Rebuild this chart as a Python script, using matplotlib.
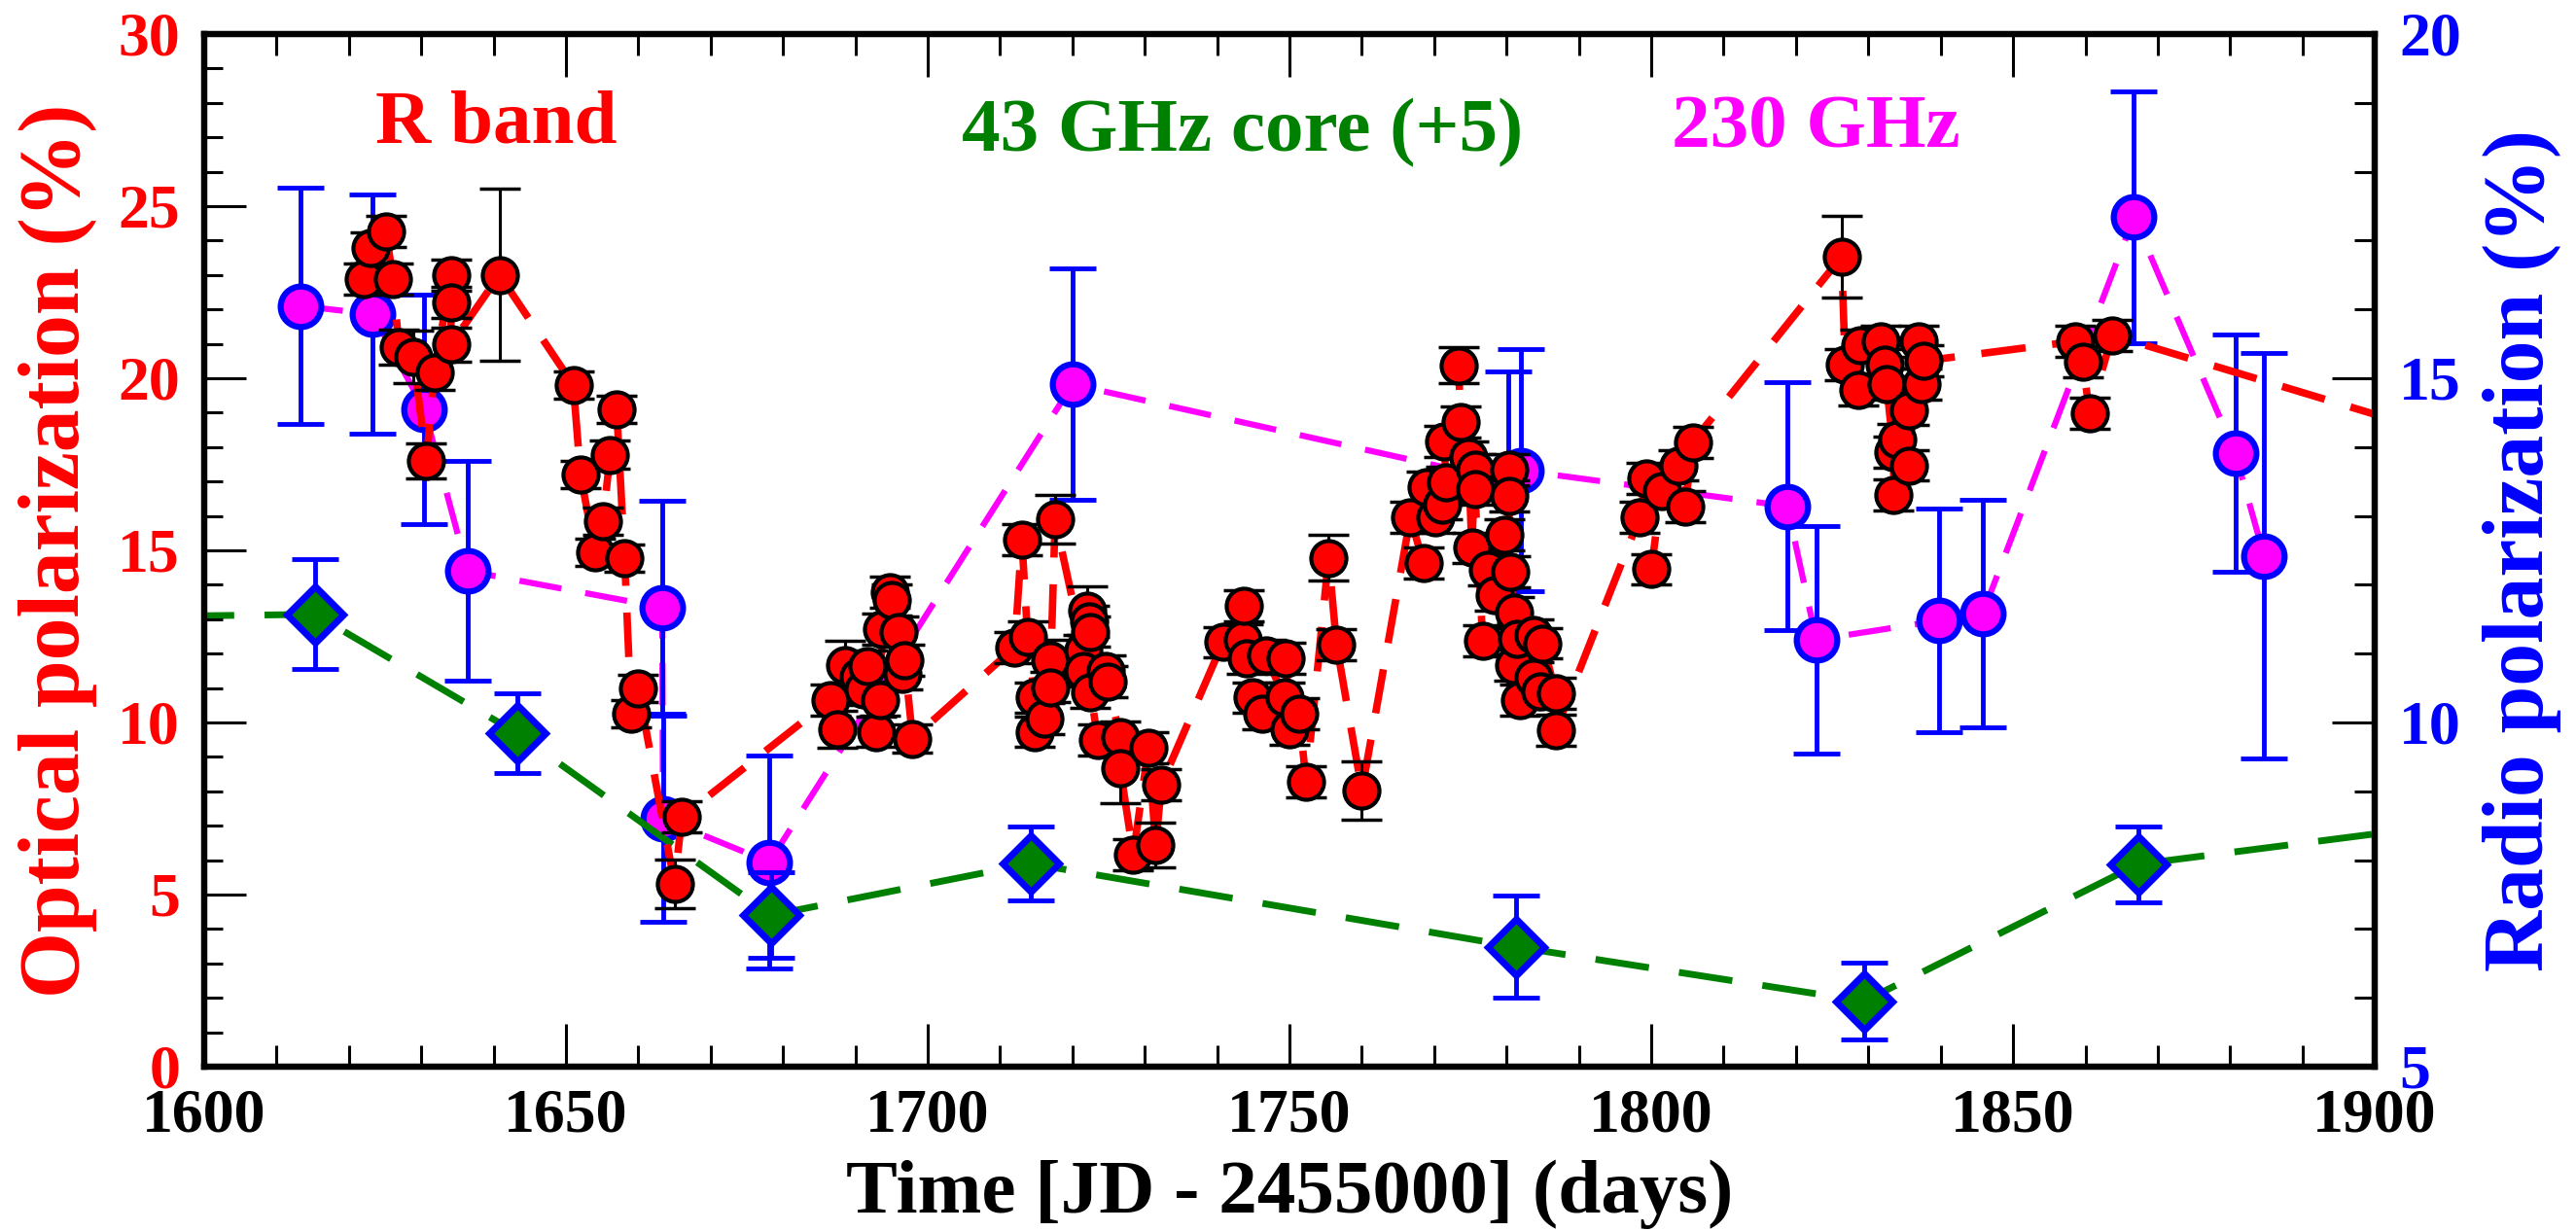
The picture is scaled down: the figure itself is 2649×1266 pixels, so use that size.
import matplotlib
matplotlib.use("Agg")
import matplotlib.pyplot as plt
from matplotlib.ticker import MultipleLocator

plt.rcParams['font.family'] = ['Liberation Serif', 'DejaVu Serif']
plt.rcParams['font.weight'] = 'bold'
plt.rcParams['axes.labelweight'] = 'bold'
plt.rcParams['axes.linewidth'] = 4.5

# R band optical polarization (%), left axis
r_time = [1622.1, 1623.0, 1625.1, 1626.1, 1626.9, 1628.9, 1630.7, 1631.8, 1634.1, 1634.1,
          1634.1, 1640.8, 1651.0, 1652.0, 1654.0, 1655.1, 1656.1, 1657.0, 1658.1, 1659.0,
          1660.0, 1665.0, 1666.0,
          1686.5, 1687.5, 1688.6, 1690.4, 1691.1, 1691.6, 1692.9, 1693.4, 1693.7, 1694.7,
          1695.0, 1696.0, 1696.5, 1696.8, 1697.9,
          1712.0, 1713.0, 1713.8, 1714.8, 1714.8, 1716.1, 1716.9, 1716.9, 1717.6, 1721.5,
          1721.5, 1722.0, 1722.3, 1722.5, 1722.5, 1723.5, 1724.6, 1724.8, 1726.6, 1726.6,
          1728.4, 1730.5, 1731.5, 1732.3,
          1740.8, 1743.6, 1743.7, 1744.1, 1744.9, 1746.2, 1746.7, 1749.3, 1749.5, 1750.0,
          1751.3, 1752.3, 1755.4, 1756.5, 1760.0,
          1766.7, 1768.5, 1768.9, 1770.2, 1771.1, 1771.4, 1771.6, 1773.4, 1773.6, 1774.7,
          1775.2, 1775.6, 1775.6, 1776.7, 1777.4, 1778.3, 1779.7, 1780.3, 1780.3, 1780.5,
          1781.0, 1781.0, 1781.4, 1781.9, 1783.7, 1783.7, 1784.6, 1785.0, 1786.8, 1786.8,
          1798.4, 1799.3, 1800.0, 1801.4, 1803.7, 1804.7, 1805.7,
          1826.3, 1826.8, 1828.6, 1828.9, 1831.7, 1832.2, 1832.5, 1833.5, 1833.5, 1834.0,
          1835.6, 1835.6, 1836.9, 1837.4, 1837.6,
          1858.6, 1859.6, 1860.6, 1863.7, 1915.0]
r_pol = [22.88, 23.78, 24.26, 22.88, 20.90, 20.62, 17.60, 20.17, 23.00, 22.19,
         20.98, 23.00, 19.81, 17.20, 14.95, 15.85, 17.78, 19.09, 14.77, 10.26,
         10.98, 5.31, 7.25,
         10.65, 9.80, 11.67, 11.34, 10.95, 11.64, 9.73, 10.65, 12.71, 13.79,
         13.56, 12.64, 11.42, 11.80, 9.53,
         12.18, 15.32, 12.48, 10.72, 9.73, 10.11, 11.80, 11.03, 15.90, 12.10,
         11.49, 13.25, 12.94, 12.64, 10.88, 9.50, 11.49, 11.18, 9.58, 8.66,
         6.16, 9.27, 6.44, 8.20,
         12.33, 12.41, 13.40, 11.87, 10.72, 10.26, 11.95, 10.72, 11.87, 9.80,
         10.26, 8.27, 14.78, 12.26, 8.02,
         15.96, 14.63, 16.84, 15.96, 16.34, 18.16, 16.97, 20.37, 18.73, 17.72,
         15.07, 17.34, 16.78, 12.36, 14.44, 13.69, 15.45, 17.34, 16.59, 14.38,
         13.18, 11.67, 12.42, 10.66, 12.55, 11.29, 10.91, 12.30, 10.85, 9.78,
         15.96, 17.09, 14.45, 16.72, 17.47, 16.28, 18.14,
         23.53, 20.40, 19.65, 20.97, 21.07, 20.40, 19.84, 17.85, 16.62, 18.23,
         19.08, 17.47, 21.07, 19.84, 20.50,
         21.07, 20.48, 18.97, 21.25, 18.00]
r_err = [0.45, 0.45, 0.45, 0.45, 0.5, 0.75, 0.52, 0.5, 0.45, 0.45,
         0.5, 2.5, 0.4, 0.4, 0.4, 0.4, 0.4, 0.4, 0.4, 0.4,
         0.4, 0.7, 0.45,
         0.45, 0.53, 0.7, 0.45, 0.45, 0.45, 0.45, 0.45, 0.45, 0.45,
         0.45, 0.45, 0.45, 0.45, 0.4,
         0.45, 0.45, 0.45, 0.45, 0.45, 0.45, 0.6, 0.45, 0.7, 0.45,
         0.45, 0.7, 0.45, 0.45, 0.45, 0.45, 0.45, 0.45, 0.45, 1.0,
         0.45, 0.45, 0.65, 0.45,
         0.45, 0.45, 0.45, 0.45, 0.45, 0.45, 0.45, 0.45, 0.45, 0.45,
         0.45, 0.45, 0.66, 0.46, 0.85,
         0.45, 0.45, 0.45, 0.45, 0.45, 0.45, 0.45, 0.52, 0.45, 0.45,
         0.45, 0.45, 0.45, 0.45, 0.45, 0.45, 0.45, 0.45, 0.45, 0.45,
         0.45, 0.45, 0.45, 0.45, 0.45, 0.45, 0.45, 0.45, 0.45, 0.45,
         0.45, 0.45, 0.45, 0.45, 0.45, 0.45, 0.45,
         1.2, 0.45, 0.45, 0.45, 0.45, 0.45, 0.45, 0.45, 0.45, 0.45,
         0.45, 0.45, 0.45, 0.45, 0.45,
         0.45, 0.45, 0.45, 0.45, 0.45]

# 43 GHz core polarization shifted by +5 (%), right axis
core_time = [1585.0, 1615.3, 1643.3, 1678.3, 1714.2, 1781.3, 1829.4, 1867.3, 1920.0]
core_pol = [11.53, 11.57, 9.84, 7.20, 7.95, 6.74, 5.95, 7.94, 8.65]
core_err = [0.80, 0.80, 0.58, 0.62, 0.54, 0.74, 0.56, 0.55, 0.55]

# 230 GHz polarization (%), right axis
mm_time = [1613.3, 1623.3, 1630.4, 1636.4, 1663.3, 1663.4, 1678.1, 1720.0, 1780.2,
           1782.0, 1818.8, 1822.8, 1839.8, 1845.8, 1866.7, 1880.7, 1884.7]
mm_pol = [16.05, 15.93, 14.55, 12.20, 11.67, 8.60, 7.97, 14.91, 13.50,
          13.66, 13.14, 11.20, 11.48, 11.58, 17.34, 13.91, 12.42]
mm_err = [1.72, 1.74, 1.67, 1.60, 1.55, 1.50, 1.55, 1.68, 1.60,
          1.76, 1.80, 1.65, 1.62, 1.65, 1.83, 1.72, 2.95]

FONT = 'Liberation Serif'

fig = plt.figure(figsize=(26.49, 12.66), dpi=100)
ax = fig.add_axes([0.0793, 0.1335, 0.8426, 0.8389])
ax2 = ax.twinx()

# radio data on the right axis (drawn underneath)
ax.plot(mm_time, mm_pol, color='#ff00ff', lw=4.5, dashes=(7, 4), zorder=2)
ax.errorbar(mm_time, mm_pol, yerr=mm_err, fmt='none', ecolor='#0000ff',
            elinewidth=3.5, capsize=17, capthick=3.5, zorder=2.1)
ax.plot(mm_time, mm_pol, 'o', ms=30, mfc='#ff00ff', mec='#0000ff', mew=4.5,
        ls='none', zorder=2.2)

ax.plot(core_time, core_pol, color='#008000', lw=5, dashes=(8, 4.5), zorder=3)
ax.errorbar(core_time, core_pol, yerr=core_err, fmt='none', ecolor='#0000ff',
            elinewidth=3.5, capsize=17, capthick=3.5, zorder=3.1)
ax.plot(core_time, core_pol, 'D', ms=30, mfc='#008000', mec='#0000ff', mew=5,
        ls='none', zorder=3.2)

# optical data on the left axis (drawn on top)
ax2.plot(r_time, r_pol, color='#ff0000', lw=5.5, dashes=(6, 3.6), zorder=2)
ax2.errorbar(r_time, r_pol, yerr=r_err, fmt='none', ecolor='black',
             elinewidth=2.2, capsize=15, capthick=2.5, zorder=2.1)
ax2.plot(r_time, r_pol, 'o', ms=26, mfc='#ff0000', mec='black', mew=3,
         ls='none', zorder=2.2)

ax.set_xlim(1600, 1900)
ax.set_ylim(5, 20)
ax2.set_ylim(0, 30)

ax.yaxis.tick_right()
ax.yaxis.set_label_position('right')
ax2.yaxis.tick_left()
ax2.yaxis.set_label_position('left')

ax.xaxis.set_major_locator(MultipleLocator(50))
ax.xaxis.set_minor_locator(MultipleLocator(10))
ax.yaxis.set_major_locator(MultipleLocator(5))
ax.yaxis.set_minor_locator(MultipleLocator(1))
ax2.yaxis.set_major_locator(MultipleLocator(5))
ax2.yaxis.set_minor_locator(MultipleLocator(1))

ax.tick_params(axis='x', which='both', direction='in', top=True, bottom=True,
               width=2.2, labelsize=46, pad=16, colors='black')
ax.tick_params(axis='x', which='major', length=32)
ax.tick_params(axis='x', which='minor', length=16)
ax.tick_params(axis='y', which='both', direction='in', left=False, right=True,
               width=2.2, labelsize=46, pad=18, labelcolor='#0000ff')
ax.tick_params(axis='y', which='major', length=32)
ax.tick_params(axis='y', which='minor', length=15)
ax2.tick_params(axis='y', which='both', direction='in', left=True, right=False,
                width=2.2, labelsize=46, pad=18, labelcolor='#ff0000')
ax2.tick_params(axis='y', which='major', length=31)
ax2.tick_params(axis='y', which='minor', length=14)

for lab in ax.get_xticklabels() + ax.get_yticklabels() + ax2.get_yticklabels():
    lab.set_fontfamily(FONT)
    lab.set_fontweight('bold')

for a in (ax, ax2):
    for s in a.spines.values():
        s.set_linewidth(4.5)

ax.set_xlabel('Time [JD - 2455000] (days)', fontsize=57, fontweight='bold',
              fontfamily=FONT)
ax.xaxis.set_label_coords(0.5, -0.0895)
ax2.set_ylabel('Optical polarization (%)', fontsize=63, color='#ff0000',
               fontweight='bold', fontfamily=FONT)
ax2.yaxis.set_label_coords(-0.0493, 0.5)
ax.set_ylabel('Radio polarization (%)', fontsize=63, color='#0000ff',
              fontweight='bold', fontfamily=FONT)
ax.yaxis.set_label_coords(1.0497, 0.5)

ax2.text(1640.3, 26.84, 'R band', color='#ff0000', fontsize=57,
         fontweight='bold', fontfamily=FONT, ha='center', va='baseline')
ax2.text(1743.5, 26.61, '43 GHz core (+5)', color='#008000', fontsize=57,
         fontweight='bold', fontfamily=FONT, ha='center', va='baseline')
ax2.text(1822.8, 26.70, '230 GHz', color='#ff00ff', fontsize=57,
         fontweight='bold', fontfamily=FONT, ha='center', va='baseline')

fig.savefig('out.png', dpi=100)
